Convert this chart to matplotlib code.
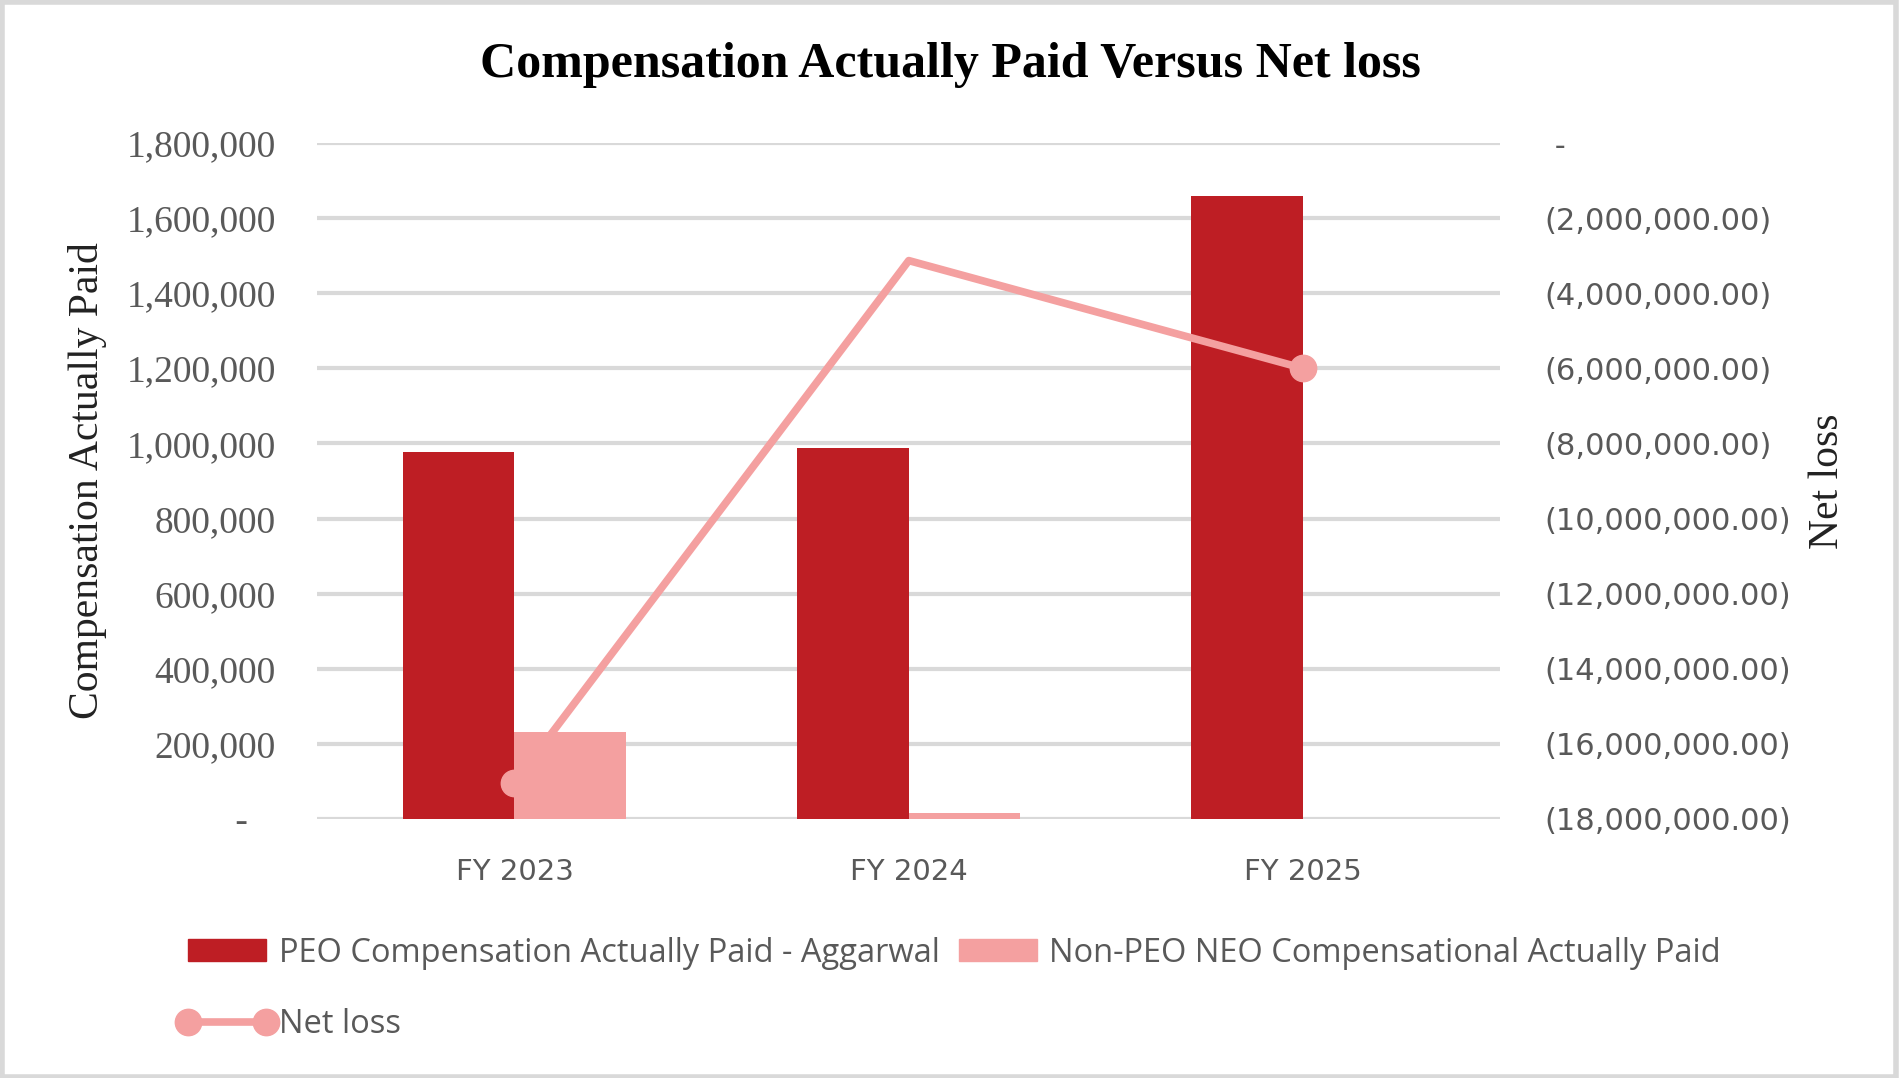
import matplotlib
matplotlib.use("Agg")
import matplotlib.pyplot as plt
from matplotlib.lines import Line2D
from matplotlib.patches import Rectangle, Patch
from matplotlib.legend_handler import HandlerLine2D
from matplotlib.ticker import FuncFormatter
import numpy as np

# donnees
annees = ["FY 2023", "FY 2024", "FY 2025"]
peo_cap = [977000, 987000, 1658000]
non_peo_cap = [232000, 15000, 0]
net_loss = [-17030000, -3130000, -6000000]
net_loss_marqueurs = [0, 2]  # points avec un marqueur

rouge = "#BE1E24"
rose = "#F4A0A0"
gris = "#D9D9D9"
texte_gris = "#595959"

fig = plt.figure(figsize=(19, 10.78), dpi=100)
ax = fig.add_axes([0.167, 0.2403, 0.6226, 0.627])
ax2 = ax.twinx()

x = np.arange(len(annees))
w = 0.283
ax.bar(x - w / 2, peo_cap, w, color=rouge, zorder=2)
ax.bar(x + w / 2, non_peo_cap, w, color=rose, zorder=2)

ax.set_xlim(-0.5, 2.5)
ax.set_ylim(0, 1800000)
ax.set_yticks(np.arange(0, 1800001, 200000))
ax.yaxis.set_major_formatter(FuncFormatter(lambda v, p: " -   " if v == 0 else f"{v:,.0f}"))
ax.grid(axis="y", color=gris, lw=3, zorder=0)
ax.set_axisbelow(True)
ax.set_xticks(x)
ax.set_xticklabels(annees, fontsize=21, color=texte_gris, family="DejaVu Sans")
ax.tick_params(axis="x", length=0, pad=28)
ax.tick_params(axis="y", length=0, pad=30, labelsize=27, labelcolor=texte_gris)
for lab in ax.get_yticklabels():
    lab.set_family("Liberation Serif")
ax.set_ylabel("Compensation Actually Paid", family="Liberation Serif", fontsize=30, color="#222222", labelpad=14)

# ligne de la perte nette sur l'axe de droite
ax2.plot(x, net_loss, color=rose, lw=5.5, zorder=3, solid_capstyle="round")
ax2.plot(x[net_loss_marqueurs], np.array(net_loss)[net_loss_marqueurs], "o", color=rose, ms=19, zorder=4)
ax2.set_ylim(-18000000, 0)
ax2.set_yticks(np.arange(-18000000, 1, 2000000))
ax2.yaxis.set_major_formatter(FuncFormatter(lambda v, p: " -" if v == 0 else f"({abs(v):,.2f})"))
ax2.tick_params(axis="y", length=0, pad=32, labelsize=22, labelcolor=texte_gris)
ax2.set_ylabel("Net loss", family="Liberation Serif", fontsize=30, color="#222222", labelpad=12)

for a in (ax, ax2):
    for s in a.spines.values():
        s.set_visible(False)

fig.text(0.5, 1 - 65 / 1078, "Compensation Actually Paid Versus Net loss", ha="center", va="center",
         family="Liberation Serif", fontweight="bold", fontsize=36)

# legende
h_peo = Patch(color=rouge)
h_non = Patch(color=rose)
h_net = Line2D([0], [0], color=rose, lw=5.5, marker="o", ms=19)
leg = fig.legend([h_peo, h_net, h_non],
                 ["PEO Compensation Actually Paid - Aggarwal", "Net loss", "Non-PEO NEO Compensational Actually Paid"],
                 ncol=2, loc="upper left", bbox_to_anchor=(0.099, 0.131), frameon=False,
                 borderpad=0, borderaxespad=0,
                 prop={"family": "Open Sans", "size": 23.5}, labelcolor=texte_gris, numpoints=2,
                 handler_map={h_net: HandlerLine2D(marker_pad=0)},
                 handlelength=2.4, handleheight=0.65, handletextpad=0.37, columnspacing=0.6, labelspacing=1.17)

# cadre gris autour de l'image
fig.patches.append(Rectangle((0.001, 0.001), 0.997, 0.997, transform=fig.transFigure,
                             fill=False, edgecolor=gris, lw=4))

fig.savefig("out.png", dpi=100)
